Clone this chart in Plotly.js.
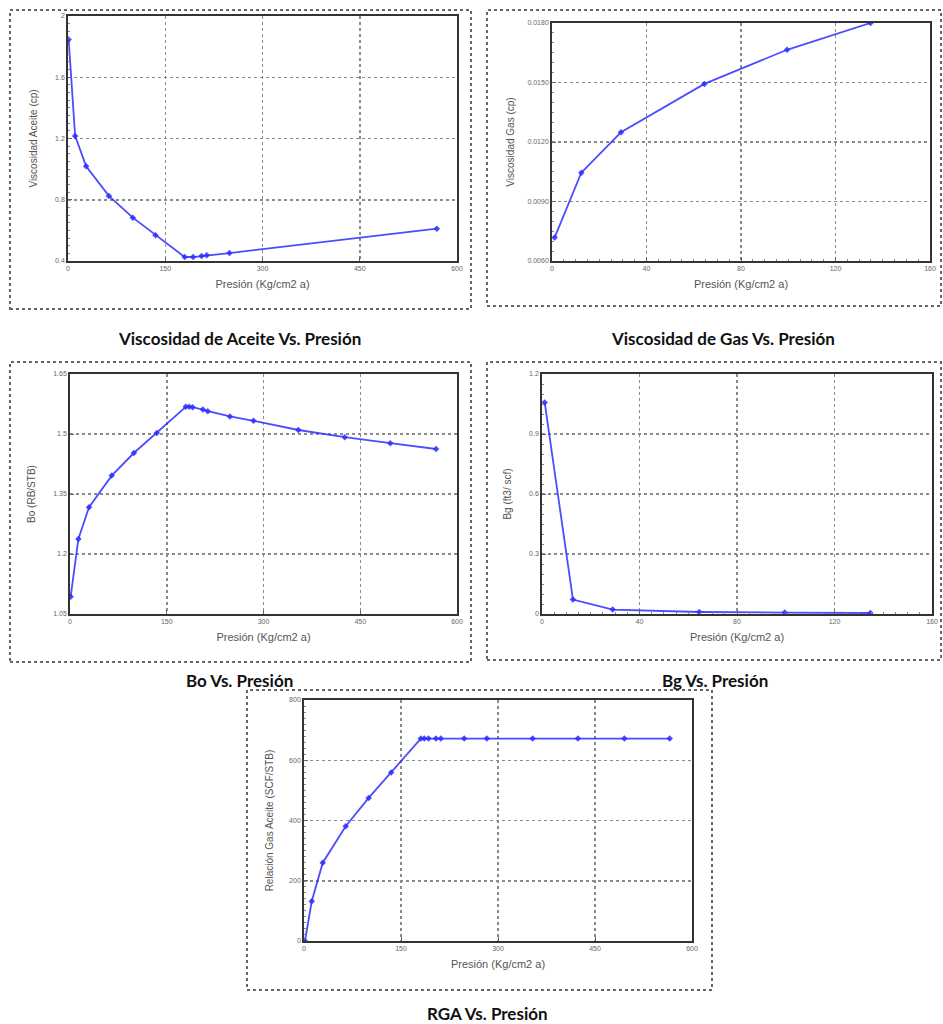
<!DOCTYPE html>
<html>
<head>
<meta charset="utf-8">
<script src="https://cdn.plot.ly/plotly-3.0.1.min.js"></script>
<style>html,body{margin:0;padding:0;background:#fff;}#chart{width:943px;height:1024px;}</style>
</head>
<body>
<div id="chart"></div>
<script>
// ---- Data ----
const viscOilPressure = [1, 11, 28, 63, 100, 135, 180, 193, 206, 214, 249, 569];
const viscOil = [1.847, 1.217, 1.019, 0.825, 0.683, 0.568, 0.426, 0.426, 0.433, 0.437, 0.452, 0.611];

const viscGasPressure = [1.1, 12.4, 29.2, 64.5, 99.5, 134.8];
const viscGas = [0.00718, 0.01045, 0.01249, 0.01493, 0.01665, 0.0180];

const boPressure = [1, 13, 29.5, 64.7, 99, 134.5, 179.5, 184.7, 190, 206, 213.6, 248, 284.5, 354, 426, 496.6, 567.5];
const bo = [1.093, 1.2375, 1.317, 1.396, 1.4525, 1.5025, 1.568, 1.568, 1.567, 1.561, 1.557, 1.544, 1.533, 1.51, 1.492, 1.477, 1.4625];

const bgPressure = [1.1, 12.7, 29, 64.5, 99.6, 134.7];
const bg = [1.058, 0.072, 0.022, 0.010, 0.007, 0.005];

const rgaPressure = [1.5, 12, 29, 64.5, 100, 134.7, 180.6, 186, 192.5, 204, 211.6, 247.7, 282.8, 353.5, 423.6, 495.4, 565.5];
const rga = [0, 132, 260, 381, 475, 559, 672, 672, 672, 672, 672, 672, 672, 672, 672, 672, 672];

const chartTitles = ["Viscosidad de Aceite Vs. Presión", "Viscosidad de Gas Vs. Presión", "Bo Vs. Presión", "Bg Vs. Presión", "RGA Vs. Presión"];
const yTitles = ["Viscosidad Aceite (cp)", "Viscosidad Gas (cp)", "Bo (RB/STB)", "Bg (ft3/ scf)", "Relación Gas Aceite (SCF/STB)"];
const xTitle = "Presión (Kg/cm2 a)";

// ---- Layout helpers ----
const W = 943, H = 1024;
const px = v => v / W;
const py = v => 1 - v / H;

const lineColor = 'rgba(45,45,255,0.85)';
function trace(x, y, i) {
  const s = i === 0 ? '' : String(i + 1);
  return {
    x: x, y: y, type: 'scatter', mode: 'lines+markers',
    xaxis: 'x' + s, yaxis: 'y' + s,
    line: {color: lineColor, width: 1.8},
    marker: {color: lineColor, size: 5, symbol: 'diamond'},
    hoverinfo: 'x+y', showlegend: false
  };
}

const data = [
  trace(viscOilPressure, viscOil, 0),
  trace(viscGasPressure, viscGas, 1),
  trace(boPressure, bo, 2),
  trace(bgPressure, bg, 3),
  trace(rgaPressure, rga, 4)
];

// plot areas in pixels: [left, right, top, bottom]
const areas = [
  [68, 457, 16, 261],
  [552, 930, 23, 261],
  [70, 457, 374, 614],
  [542, 932, 374, 614],
  [304, 692, 700, 941]
];
const xRanges = [[0, 600], [0, 160], [0, 600], [0, 160], [0, 600]];
const xDticks = [150, 40, 150, 40, 150];
const yRanges = [[0.4, 2], [0.006, 0.018], [1.05, 1.65], [0, 1.2], [0, 800]];
const yDticks = [0.4, 0.003, 0.15, 0.3, 200];
const yFormats = ['', '.4f', '', '', ''];
const yStandoff = [15, 11, 16, 15, 14];

const layout = {
  width: W, height: H,
  margin: {l: 0, r: 0, t: 0, b: 0},
  paper_bgcolor: '#fff', plot_bgcolor: '#fff',
  font: {family: 'Liberation Sans, Arial, sans-serif', color: '#555'},
  shapes: [], annotations: []
};

areas.forEach((a, i) => {
  const s = i === 0 ? '' : String(i + 1);
  const common = {
    showline: true, mirror: true, linecolor: '#333', linewidth: 1.8,
    showgrid: true, gridcolor: '#8a8a8a', gridwidth: 1.5, griddash: 'dot',
    zeroline: false, ticks: 'inside', ticklen: 4, tickcolor: '#666',
    tickfont: {size: 7, color: '#666'},
    minor: {ticks: 'inside', ticklen: 2, tickcolor: '#888', nticks: 10, showgrid: false}
  };
  layout['xaxis' + s] = Object.assign({}, common, {
    domain: [px(a[0]), px(a[1])], anchor: 'y' + s,
    range: xRanges[i], dtick: xDticks[i], tick0: 0,
    title: {text: xTitle, font: {size: 11, color: '#555'}, standoff: 9}
  });
  layout['yaxis' + s] = Object.assign({}, common, {
    domain: [py(a[3]), py(a[2])], anchor: 'x' + s,
    range: yRanges[i], dtick: yDticks[i], tick0: 0,
    tickformat: yFormats[i],
    title: {text: yTitles[i], font: {size: 10, color: '#555'}, standoff: yStandoff[i]}
  });
});

// outer frames [x0, x1, y0, y1]
const frames = [[10, 471, 10, 309], [487, 941, 10, 306], [10, 471, 362, 662], [487, 941, 362, 660], [247, 712, 690, 990]];
frames.forEach(f => {
  layout.shapes.push({type: 'rect', xref: 'paper', yref: 'paper',
    x0: px(f[0]), x1: px(f[1]), y0: py(f[3]), y1: py(f[2]),
    line: {color: '#666', width: 2, dash: 'dot'}});
});

// chart captions
const captionPos = [[240, 338], [723, 338], [240, 680], [715, 680], [487, 1013]];
captionPos.forEach((c, i) => {
  layout.annotations.push({xref: 'paper', yref: 'paper', x: px(c[0]), y: py(c[1]),
    text: '<b>' + chartTitles[i] + '</b>', showarrow: false,
    xanchor: 'center', yanchor: 'middle',
    font: {family: 'Lato, Carlito, sans-serif', size: 17, color: '#111'}});
});

Plotly.newPlot('chart', data, layout, {displayModeBar: false, staticPlot: true});
</script>
</body>
</html>
